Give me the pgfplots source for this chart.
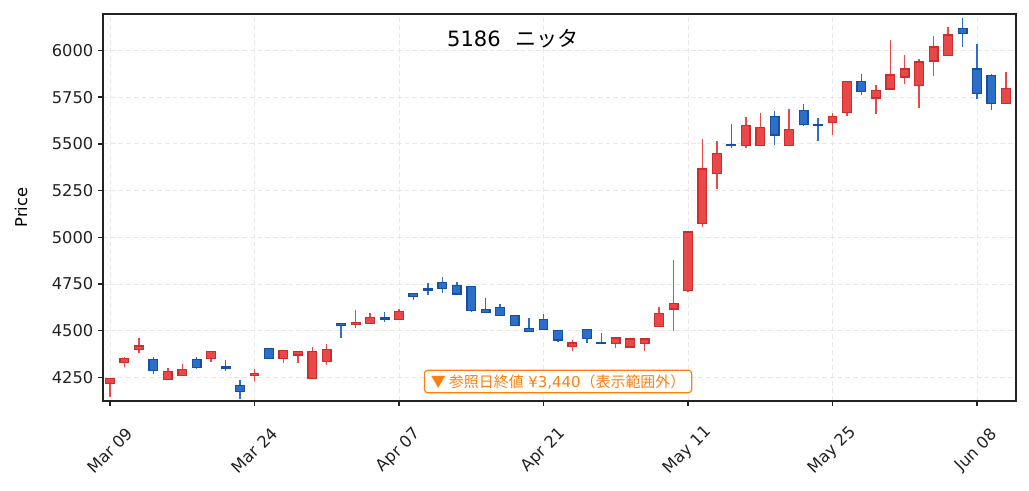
\documentclass[border=0pt]{standalone}
\usepackage{pgfplots}
\pgfplotsset{compat=1.18}
\usepackage{pgfplotstable}
\usepackage{fontspec}
\setmainfont{DejaVu Sans}
\newfontfamily\jp{Noto Sans CJK JP}
\definecolor{upfill}{RGB}{232,72,72}
\definecolor{upedge}{RGB}{205,45,45}
\definecolor{dnfill}{RGB}{45,110,200}
\definecolor{dnedge}{RGB}{22,80,165}
\definecolor{annot}{RGB}{255,127,14}
\definecolor{gridc}{RGB}{232,232,232}
\definecolor{framec}{RGB}{34,34,34}

% up candles (close > open): x low open close high
\pgfplotstableread{
x l b t h
0 4147 4218 4245 4247
1 4307 4330 4352 4359
2 4382 4398 4418 4460
4 4239 4239 4282 4300
5 4261 4261 4293 4323
7 4332 4352 4389 4389
10 4232 4262 4270 4295
12 4328 4352 4393 4393
13 4325 4370 4389 4389
14 4245 4245 4389 4411
15 4318 4337 4400 4428
17 4516 4535 4546 4610
18 4539 4539 4571 4596
20 4560 4560 4603 4618
32 4392 4415 4434 4449
35 4408 4431 4461 4461
36 4410 4413 4456 4456
37 4392 4433 4456 4456
38 4523 4523 4594 4629
39 4500 4617 4647 4880
40 4707 4714 5029 5034
41 5055 5075 5366 5525
42 5259 5343 5448 5514
44 5479 5491 5598 5643
45 5491 5491 5586 5664
47 5491 5491 5575 5686
50 5548 5616 5645 5664
51 5649 5667 5832 5832
53 5660 5746 5784 5817
54 5794 5794 5869 6057
55 5819 5858 5901 5977
56 5690 5814 5938 5956
57 5862 5943 6018 6078
58 5968 5973 6082 6126
62 5715 5715 5798 5887
}\uptab

% down candles (close < open): x low close open high
\pgfplotstableread{
x l b t h
3 4268 4286 4346 4359
6 4295 4303 4346 4359
8 4286 4300 4309 4343
9 4136 4175 4207 4236
11 4352 4352 4403 4403
16 4460 4527 4537 4539
19 4546 4562 4568 4600
21 4667 4684 4700 4700
22 4689 4714 4724 4753
23 4700 4725 4757 4785
24 4696 4696 4742 4760
25 4599 4607 4735 4735
26 4596 4598 4613 4677
27 4580 4580 4626 4645
28 4527 4527 4583 4583
29 4497 4497 4510 4566
30 4505 4505 4562 4587
31 4440 4450 4502 4502
33 4434 4457 4505 4505
34 4431 4431 4437 4486
43 5479 5490 5498 5605
46 5495 5547 5645 5675
48 5598 5605 5677 5713
49 5516 5597 5602 5638
52 5761 5780 5832 5876
59 6016 6092 6119 6174
60 5739 5770 5901 6035
61 5681 5715 5867 5874
}\dntab

\pgfplotstablegetrowsof{\uptab}\pgfmathtruncatemacro\nup{\pgfplotsretval-1}
\pgfplotstablegetrowsof{\dntab}\pgfmathtruncatemacro\ndn{\pgfplotsretval-1}

\newcommand\candlebody[3]{%
  \pgfplotstablegetelem{#2}{x}\of#1\edef\cx{\pgfplotsretval}%
  \pgfplotstablegetelem{#2}{b}\of#1\edef\cb{\pgfplotsretval}%
  \pgfplotstablegetelem{#2}{t}\of#1\edef\ct{\pgfplotsretval}%
  \pgfmathsetmacro\xa{\cx-0.3}\pgfmathsetmacro\xb{\cx+0.3}%
  \edef\tmp{\noexpand\addplot[#3] coordinates {(\xa,\cb) (\xb,\cb) (\xb,\ct) (\xa,\ct)} -- cycle;}%
  \tmp}

\pgfplotsset{
  upbody/.style={draw=upedge, fill=upfill, line width=0.95pt, mark=none, forget plot},
  dnbody/.style={draw=dnedge, fill=dnfill, line width=0.95pt, mark=none, forget plot},
  wick/.style={draw=none, mark=none, forget plot,
    error bars/.cd, y dir=both, y explicit, error mark=none,
    error bar style={draw=#1, line width=1.1pt, solid}},
}

\begin{document}
\begin{tikzpicture}
\begin{axis}[
  scale only axis,
  width=684.75pt, height=290.25pt,
  xmin=-0.484, xmax=62.7,
  ymin=4124, ymax=6195,
  axis line style={draw=framec, line width=1.2pt},
  tick pos=left, tick align=outside,
  major tick length=3.75pt,
  every tick/.style={draw=framec, line width=1.1pt},
  xtick={0,10,20,30,40,50,60},
  xticklabels={Mar 09,Mar 24,Apr 07,Apr 21,May 11,May 25,Jun 08},
  ytick={4250,4500,4750,5000,5250,5500,5750,6000},
  /pgf/number format/assume math mode=true,
  yticklabel={\pgfmathprintnumber[fixed,1000 sep={}]{\tick}},
  tick label style={font=\fontsize{12.2}{14}\selectfont, text=framec},
  xticklabel style={anchor=center, yshift=-33.5pt, rotate=45},
  grid=major,
  grid style={draw=gridc, line width=0.7pt, dash pattern=on 3.6pt off 2.2pt},
  ylabel={Price},
  ylabel style={at={(axis description cs:-0.0898,0.5)}, anchor=center, font=\fontsize{12.2}{14}\selectfont},
  clip=true,
]
\addplot[wick=upfill] table[x=x, y expr={(\thisrow{h}+\thisrow{l})/2}, y error expr={(\thisrow{h}-\thisrow{l})/2}] {\uptab};
\addplot[wick=dnfill] table[x=x, y expr={(\thisrow{h}+\thisrow{l})/2}, y error expr={(\thisrow{h}-\thisrow{l})/2}] {\dntab};
\pgfplotsinvokeforeach{0,...,\nup}{\candlebody{\uptab}{#1}{upbody}}
\pgfplotsinvokeforeach{0,...,\ndn}{\candlebody{\dntab}{#1}{dnbody}}
\node[anchor=base west, inner sep=0pt, font=\fontsize{15.8}{18}\selectfont, text=black] at (rel axis cs:0.3766,0.9155) {5186\hspace{11pt}{\jp ニッタ}};
\node[draw=annot, fill=white, line width=0.9pt, rounded corners=2.5pt, inner xsep=4.8pt, inner ysep=3pt, text=annot, font=\fontsize{11.2}{13}\selectfont] at (rel axis cs:0.4984,0.0504) {{\jp ▼ 参照日終値} ¥3,440{\jp （表示範囲外）}};
\end{axis}
\pgfresetboundingbox
\path[use as bounding box] ([shift={(-77.25pt,-67.5pt)}]current axis.south west) rectangle ([shift={(9.75pt,10.5pt)}]current axis.north east);
\end{tikzpicture}
\end{document}
